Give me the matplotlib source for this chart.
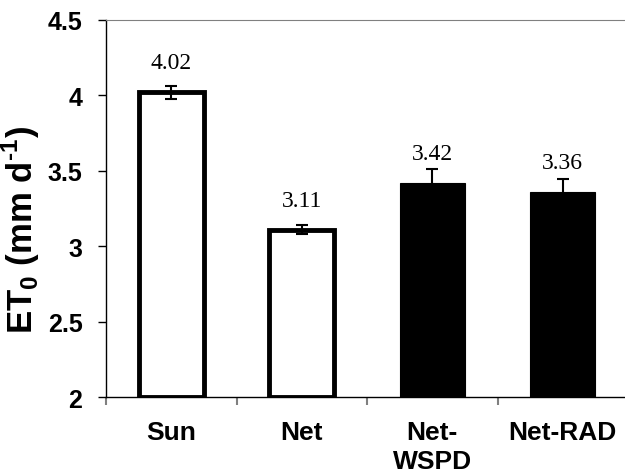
import matplotlib
matplotlib.use("Agg")
import matplotlib.pyplot as plt
import numpy as np

plt.rcParams['font.family'] = 'Liberation Sans'
plt.rcParams['mathtext.fontset'] = 'custom'
plt.rcParams['mathtext.rm'] = 'Liberation Sans:bold'
plt.rcParams['mathtext.bf'] = 'Liberation Sans:bold'

# ---- data ----
treatments = ["Sun", "Net", "Net-\nWSPD", "Net-RAD"]
et0 = [4.02, 3.11, 3.42, 3.36]
et0_err = [0.04, 0.03, 0.09, 0.09]
bar_fill = ["white", "white", "black", "black"]
y_min, y_max = 2, 4.5

fig = plt.figure(figsize=(6.25, 4.77), dpi=100)
ax = fig.add_axes([0.1696, 0.1646, 0.8352, 0.7914])

x = np.arange(len(treatments))
heights = [v - y_min for v in et0]
for xi, h, fc in zip(x, heights, bar_fill):
    lw = 3.5 if fc == "white" else 0.8
    ax.bar(xi, h, bottom=y_min, width=0.5, color=fc, edgecolor="black",
           linewidth=lw, zorder=2)

ax.errorbar(x, et0, yerr=et0_err, fmt="none", ecolor="black",
            elinewidth=1.5, capsize=4, capthick=1.5, zorder=3)

# value labels above bars
for xi, v in zip(x, et0):
    ax.annotate(f"{v:.2f}", (xi, v), xytext=(0, 17.5), textcoords="offset points",
                ha="center", va="baseline", fontsize=17, family="Liberation Serif")

ax.set_xlim(-0.5, len(treatments) - 0.5)
ax.set_ylim(y_min, y_max)
ax.set_yticks(np.arange(2, 4.51, 0.5))
ax.set_yticklabels(["2", "2.5", "3", "3.5", "4", "4.5"], fontsize=18, fontweight="bold")
ax.tick_params(axis="y", direction="out", length=6, width=1, pad=11)

# category ticks sit between bars, labels sit under bars
ax.set_xticks(np.arange(-0.5, len(treatments) - 0.5, 1.0))
ax.set_xticklabels([])
ax.tick_params(axis="x", which="major", direction="out", length=6, width=1.5, color="#808080")
ax.set_xticks(x, minor=True)
ax.set_xticklabels(treatments, minor=True, fontsize=19, fontweight="bold", linespacing=1.3)
ax.tick_params(axis="x", which="minor", length=0, pad=16)

ax.spines["right"].set_visible(False)
ax.spines["top"].set_color("#808080")
ax.spines["left"].set_linewidth(1)
ax.spines["bottom"].set_linewidth(1)

ax.set_ylabel(r"ET$_0$ (mm d$^{\text{-}1}$)", fontsize=25, fontweight="bold")
ax.yaxis.set_label_coords(-0.1226, 0.446)

fig.savefig("out.png", dpi=100)
